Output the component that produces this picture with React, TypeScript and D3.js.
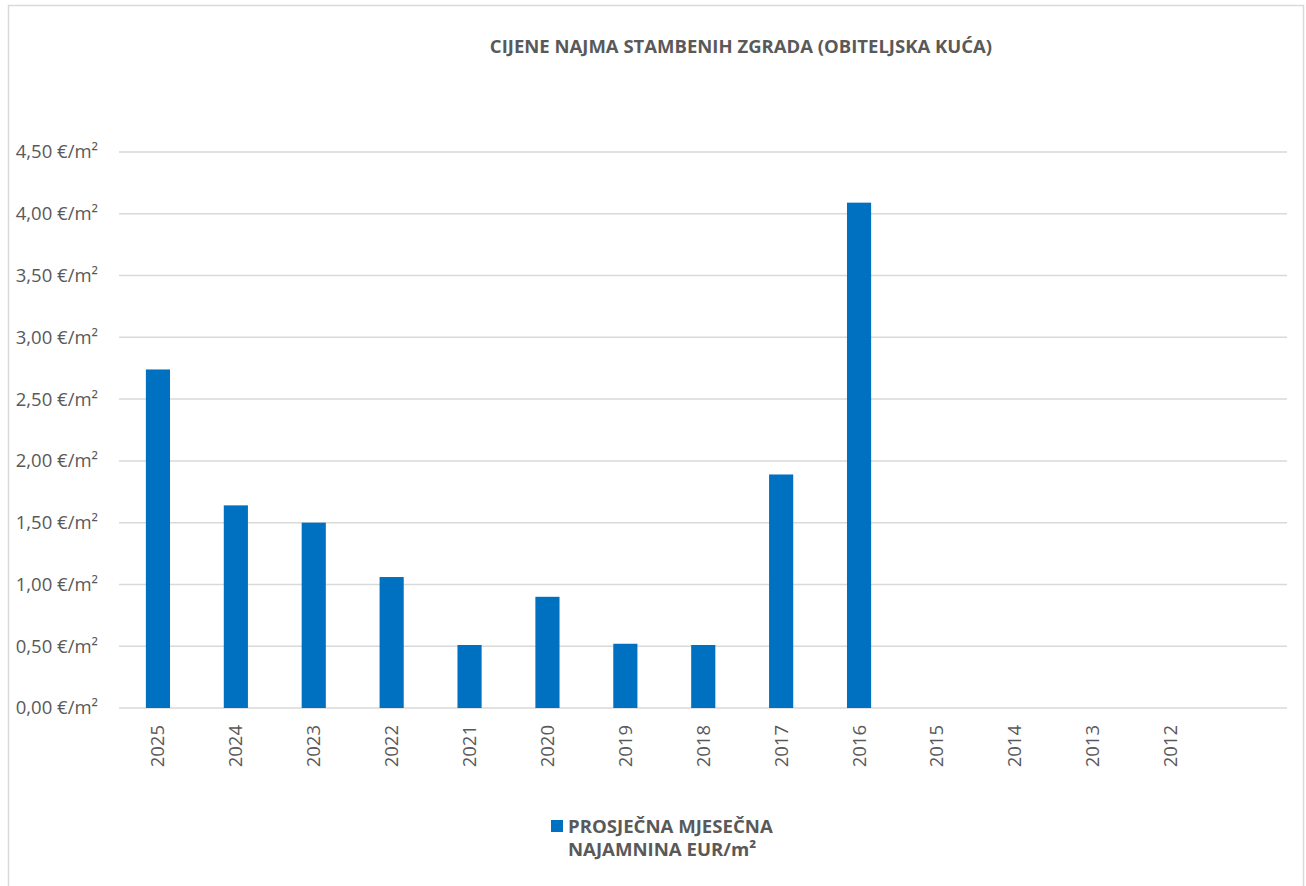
import React from "react";
import * as d3 from "d3";

const categories = ["2025", "2024", "2023", "2022", "2021", "2020", "2019", "2018", "2017", "2016", "2015", "2014", "2013", "2012"];
const values: (number | null)[] = [2.74, 1.64, 1.5, 1.06, 0.51, 0.9, 0.52, 0.51, 1.89, 4.09, null, null, null, null];
const yTicks = [0, 0.5, 1, 1.5, 2, 2.5, 3, 3.5, 4, 4.5];
const title = "CIJENE NAJMA STAMBENIH ZGRADA (OBITELJSKA KUĆA)";
const legendLines = ["PROSJEČNA MJESEČNA", "NAJAMNINA EUR/m²"];

const W = 1306;
const H = 886;
const FONT = "'Open Sans', sans-serif";
const TEXT = "#595959";
const GRID = "#d9d9d9";
const BAR = "#0070c0";

export default function App() {
  const left = 119;
  const bandStep = 77.9;
  const gridRight = 1287;
  const x = d3
    .scaleBand<string>()
    .domain(categories)
    .range([left, left + bandStep * categories.length])
    .paddingInner(0.69)
    .paddingOuter(0.345);
  const y = d3.scaleLinear().domain([0, 4.5]).range([708, 152]);
  const fmt = (v: number) => d3.format(".2f")(v).replace(".", ",") + " €/m²";

  return (
    <svg width={W} height={H} style={{ position: "absolute", left: 0, top: 0 }} fontFamily={FONT}>
      <rect x={0} y={0} width={W} height={H} fill="#fff" />
      <rect x={8.5} y={5.5} width={1295} height={H + 10} fill="none" stroke={GRID} strokeWidth={1.5} />
      <text x={741} y={53} textAnchor="middle" fontSize={18.5} fontWeight={700} fill={TEXT}>
        {title}
      </text>
      {yTicks.map((t) => (
        <g key={t}>
          <line x1={left} x2={gridRight} y1={y(t)} y2={y(t)} stroke={GRID} strokeWidth={1.5} />
          <text x={98} y={y(t)} dy="0.35em" textAnchor="end" fontSize={18.5} fill={TEXT}>
            {fmt(t)}
          </text>
        </g>
      ))}
      {categories.map((c, i) =>
        values[i] == null ? null : (
          <rect key={c} x={x(c)} y={y(values[i] as number)} width={x.bandwidth()} height={y(0) - y(values[i] as number)} fill={BAR} />
        )
      )}
      {categories.map((c) => {
        const cx = (x(c) as number) + x.bandwidth() / 2;
        return (
          <text key={c} transform={`translate(${cx},${725}) rotate(-90)`} textAnchor="end" dy="0.35em" fontSize={18.5} fill={TEXT}>
            {c}
          </text>
        );
      })}
      <rect x={551} y={820} width={12} height={12} fill={BAR} />
      {legendLines.map((l, i) => (
        <text key={i} x={568} y={833 + i * 23} fontSize={18.6} fontWeight={700} fill={TEXT}>
          {l}
        </text>
      ))}
    </svg>
  );
}
